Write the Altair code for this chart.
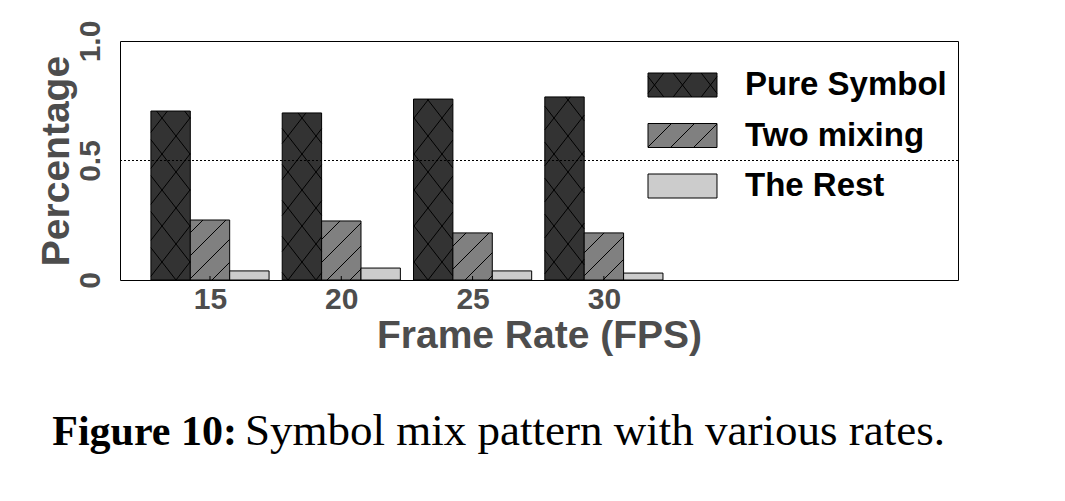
import altair as alt
import pandas as pd
import numpy as np

# ---------------- data ----------------
fps = [15, 20, 25, 30]
series = ["Pure Symbol", "Two mixing", "The Rest"]
pure_symbol = [0.707, 0.699, 0.757, 0.766]
two_mixing = [0.251, 0.247, 0.197, 0.197]
the_rest = [0.038, 0.050, 0.038, 0.029]
y_ticks = [0, 0.5, 1.0]
ref_line = [0.5]
x_title = "Frame Rate (FPS)"
y_title = "Percentage"
caption_bold = "Figure 10:"
caption_text = "Symbol mix pattern with various rates."

# ---------------- styling / layout ----------------
fills = ["#333333", "#808080", "#cccccc"]
outlines = ["black", "black", "black"]
hatches = ["cross", "slash", "none"]
W, H = 838, 239
x_dom = [11.573, 43.485]
bar_w = 1.5            # width of one bar, in FPS units
axis_grey = "#4d4d4d"
sans = "Liberation Sans"
serif = "Liberation Serif"
cross_a, cross_b = 28.0, 36.0   # diamond width/height in px
slash_gap = 23.0                # px between "/" lines
sym_half_w, sym_half_h = 34.5, 12.0  # legend swatch half size in px
sym_unit = 16.0                      # sqrt(symbolSize)/2

values = [pure_symbol, two_mixing, the_rest]
rows = []
for i, (s, vals) in enumerate(zip(series, values)):
    for f, v in zip(fps, vals):
        x0 = f + (i - 1.5) * bar_w
        rows.append({"series": s, "fps": f, "x0": x0, "x1": x0 + bar_w,
                     "xc": x0 + bar_w / 2, "value": v, "hatch": hatches[i]})
bars = pd.DataFrame(rows)


def clip(px, py, dx, dy, xmin, xmax, ymin, ymax):
    t0, t1 = -1e9, 1e9
    for p_, q_ in ((-dx, px - xmin), (dx, xmax - px), (-dy, py - ymin), (dy, ymax - py)):
        if p_ == 0:
            if q_ < 0:
                return None
        else:
            t = q_ / p_
            if p_ < 0:
                t0 = max(t0, t)
            else:
                t1 = min(t1, t)
    if t0 >= t1:
        return None
    return (px + t0 * dx, py + t0 * dy, px + t1 * dx, py + t1 * dy)


def hatch_lines(xmin, xmax, ymin, ymax, slope, spacing):
    segs = []
    cs = [x - y / slope for x in (xmin, xmax) for y in (ymin, ymax)]
    kmin = int(np.floor(min(cs) / spacing)) - 1
    kmax = int(np.ceil(max(cs) / spacing)) + 1
    for k in range(kmin, kmax + 1):
        c = k * spacing
        seg = clip(c, 0.0, 1.0, slope, xmin, xmax, ymin, ymax)
        if seg and np.hypot(seg[2] - seg[0], seg[3] - seg[1]) > 1.0:
            segs.append(seg)
    return segs


def pattern_lines(kind, xmin, xmax, ymin, ymax, up=1.0):
    if kind == "cross":
        s = cross_b / cross_a
        return (hatch_lines(xmin, xmax, ymin, ymax, up * s, cross_a)
                + hatch_lines(xmin, xmax, ymin, ymax, -up * s, cross_a))
    if kind == "slash":
        return hatch_lines(xmin, xmax, ymin, ymax, up * 1.0, slash_gap)
    return []


span = x_dom[1] - x_dom[0]
hrows = []
for r in rows:
    px0 = (r["x0"] - x_dom[0]) / span * W
    px1 = (r["x1"] - x_dom[0]) / span * W
    py1 = r["value"] * H
    for (a, b, c, d) in pattern_lines(r["hatch"], px0, px1, 0.0, py1):
        hrows.append({"x": x_dom[0] + a / W * span, "y": b / H,
                      "x2": x_dom[0] + c / W * span, "y2": d / H})
hatch_df = pd.DataFrame(hrows)

# legend swatch shapes as SVG paths (path unit = sqrt(size)/2 px)
hw = sym_half_w / sym_unit
hh = sym_half_h / sym_unit
paths = []
for kind in hatches:
    p = f"M{-hw:.4f},{-hh:.4f}L{hw:.4f},{-hh:.4f}L{hw:.4f},{hh:.4f}L{-hw:.4f},{hh:.4f}Z"
    for (a, b, c, d) in pattern_lines(kind, -sym_half_w, sym_half_w, -sym_half_h, sym_half_h, up=-1.0):
        p += (f"M{a / sym_unit:.4f},{b / sym_unit:.4f}"
              f"L{c / sym_unit:.4f},{d / sym_unit:.4f}")
    paths.append(p)

x_scale = alt.Scale(domain=x_dom, nice=False, zero=False)
y_scale = alt.Scale(domain=[0, 1], nice=False)
fill_scale = alt.Scale(domain=series, range=fills)

legend = alt.Legend(
    title=None, orient="none", legendX=546, legendY=27.5, padding=0,
    symbolSize=(2 * sym_unit) ** 2, symbolStrokeColor="black",
    symbolStrokeWidth=1, symbolOpacity=1,
    labelFont=sans, labelFontSize=33, labelFontWeight="bold",
    labelColor="black", labelOffset=46, rowPadding=16.5, labelLimit=400,
)

x_axis = alt.Axis(values=fps, title=x_title, grid=False, domain=False,
                  ticks=False, labelFont=sans, labelFontSize=30,
                  labelFontWeight="bold", labelColor=axis_grey,
                  labelPadding=4, labelAngle=0,
                  titleFont=sans, titleFontSize=39, titleFontWeight="bold",
                  titleColor=axis_grey, titlePadding=2)
y_axis = alt.Axis(values=y_ticks, title=y_title, grid=False, domain=False,
                  ticks=False, labelFont=sans, labelFontSize=30,
                  labelFontWeight="bold", labelColor=axis_grey,
                  labelAngle=270, labelAlign="center", labelBaseline="bottom",
                  labelPadding=15,
                  labelExpr="datum.value == 0 ? '0' : format(datum.value, '.1f')",
                  titleFont=sans, titleFontSize=39, titleFontWeight="bold",
                  titleColor=axis_grey, titlePadding=7,
                  titleBaseline="alphabetic")

base = alt.Chart(bars)

bar_layer = base.mark_rect(stroke="black", strokeWidth=1).encode(
    x=alt.X("x0:Q", scale=x_scale, axis=x_axis),
    x2="x1:Q",
    y=alt.Y("value:Q", scale=y_scale, axis=y_axis),
    y2=alt.datum(0),
    fill=alt.Fill("series:N", scale=fill_scale, legend=None),
)

legend_layer = base.mark_point(
    filled=True, opacity=0, strokeWidth=1
).encode(
    x=alt.X("xc:Q", scale=x_scale),
    y=alt.Y("value:Q", scale=y_scale),
    fill=alt.Fill("series:N", scale=fill_scale, legend=legend),
    shape=alt.Shape("series:N", scale=alt.Scale(domain=series, range=paths), legend=legend),
    stroke=alt.Stroke("series:N", scale=alt.Scale(domain=series, range=outlines), legend=legend),
)

hatch_layer = alt.Chart(hatch_df).mark_rule(color="black", strokeWidth=1).encode(
    x=alt.X("x:Q", scale=x_scale), y=alt.Y("y:Q", scale=y_scale),
    x2="x2:Q", y2="y2:Q",
)

tick_layer = alt.Chart(pd.DataFrame({"fps": fps})).mark_rule(
    color="black", strokeWidth=1
).encode(
    x=alt.X("fps:Q", scale=x_scale),
    y=alt.datum(0),
    y2=alt.datum(4 / H),
)

ref_layer = alt.Chart(pd.DataFrame({"y": ref_line})).mark_rule(
    color="black", strokeWidth=1, strokeDash=[2, 2]
).encode(y=alt.Y("y:Q", scale=y_scale))

cap_df = pd.DataFrame({"b": [caption_bold], "t": [caption_text]})
cap_bold = alt.Chart(cap_df).mark_text(
    font=serif, fontSize=42, fontWeight="bold", align="right",
    baseline="alphabetic", color="black"
).encode(text="b:N", x=alt.value(117), y=alt.value(404))
cap_text = alt.Chart(cap_df).mark_text(
    font=serif, fontSize=45, align="left", baseline="alphabetic", color="black"
).encode(text="t:N", x=alt.value(125), y=alt.value(404))

chart = alt.layer(
    legend_layer, bar_layer, hatch_layer, tick_layer, ref_layer, cap_bold, cap_text
).properties(
    width=W, height=H,
    autosize=alt.AutoSizeParams(type="none"),
    padding={"left": 120, "top": 41, "right": 107, "bottom": 221},
).configure(background="white").configure_view(stroke="black", strokeWidth=1)

chart.save("out.html", embed_options={"renderer": "svg", "actions": False})
